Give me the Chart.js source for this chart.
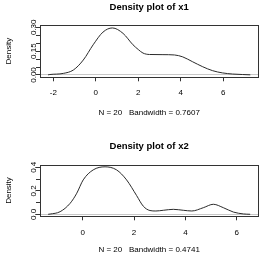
<!DOCTYPE html>
<html>
<head>
<meta charset="utf-8">
<script src="https://cdn.jsdelivr.net/npm/chart.js@4.4.1/dist/chart.umd.min.js"></script>
<style>
  html, body { margin: 0; padding: 0; background: #fff; }
  #wrap { position: relative; width: 260px; height: 259px; overflow: hidden; }
  .panel { position: absolute; left: 0; }
  #p1 { top: 0; }
  #p2 { top: 130px; }
</style>
</head>
<body>
<div id="wrap">
  <div class="panel" id="p1"><canvas id="c1" width="260" height="130"></canvas></div>
  <div class="panel" id="p2"><canvas id="c2" width="260" height="129"></canvas></div>
</div>
<script>
// ── DATA ──────────────────────────────────────────────────────────────────────
// density of x1
const x1Grid = [-2.245, -2.16, -1.53, -1.06, -0.59, -0.125, 0.34, 0.78, 1.28, 1.75, 2.0, 2.22,
                2.53, 3.16, 3.70, 4.09, 4.56, 5.03, 5.50, 5.97, 6.44, 6.90, 7.27];
const x1Dens = [0.001, 0.003, 0.010, 0.031, 0.094, 0.190, 0.270, 0.296, 0.262, 0.190, 0.160, 0.138,
                0.129, 0.128, 0.126, 0.114, 0.083, 0.052, 0.027, 0.013, 0.006, 0.003, 0.001];
const x1Ticks   = [-2, 0, 2, 4, 6];
const y1Ticks   = [0, 0.05, 0.10, 0.15, 0.20, 0.25, 0.30];
const y1Labels  = ['0.00', '', '', '0.15', '', '', '0.30'];

// density of x2
const x2Grid = [-1.345, -1.27, -0.88, -0.49, -0.23, 0.02, 0.41, 0.87, 1.32, 1.71, 2.10, 2.36,
                2.62, 2.85, 3.14, 3.53, 3.92, 4.25, 4.70, 5.09, 5.48, 5.87, 6.26, 6.525];
const x2Dens = [0.001, 0.003, 0.023, 0.094, 0.180, 0.293, 0.378, 0.404, 0.378, 0.293, 0.160, 0.070,
                0.033, 0.029, 0.035, 0.043, 0.035, 0.029, 0.057, 0.086, 0.057, 0.020, 0.004, 0.001];
const x2Ticks   = [0, 2, 4, 6];
const y2Ticks   = [0, 0.1, 0.2, 0.3, 0.4];
const y2Labels  = ['0.0', '', '0.2', '', '0.4'];

const FONT = "'Liberation Sans', Arial, sans-serif";

// ── PLOT BOX (R style frame round the plot region) ────────────────────────────
const plotBox = {
    id: 'plotBox',
    afterDatasetsDraw(chart) {
        const { ctx, chartArea: a } = chart;
        const l = Math.round(a.left), r = Math.round(a.right);
        const t = Math.round(a.top),  b = Math.round(a.bottom);
        ctx.save();
        ctx.strokeStyle = '#333';
        ctx.lineWidth = 1;
        ctx.strokeRect(l + 0.5, t + 0.5, r - l, b - t);
        ctx.restore();
    }
};

function densityChart(id, c) {
    return new Chart(document.getElementById(id), {
        type: 'line',
        data: {
            datasets: [{
                data: c.xs.map((x, i) => ({ x: x, y: c.ys[i] })),
                borderColor: '#2b2b2b', borderWidth: 1,
                pointRadius: 0, fill: false,
                cubicInterpolationMode: 'monotone'
            }]
        },
        options: {
            responsive: false, animation: false, events: [],
            layout: { padding: { top: 0, left: 0, right: 1.7, bottom: 0 } },
            plugins: {
                legend: { display: false },
                tooltip: { enabled: false },
                title: {
                    display: true, text: c.title, fullSize: false, color: '#000',
                    font: { family: FONT, size: 9.5, weight: 'bold' },
                    padding: { top: c.titleTop, bottom: c.titleBottom }
                }
            },
            scales: {
                x: {
                    type: 'linear', min: c.xMin, max: c.xMax,
                    afterBuildTicks: s => { s.ticks = c.xTicks.map(v => ({ value: v })); },
                    afterFit: s => { s.height = c.xHeight; },
                    ticks: {
                        autoSkip: false, maxRotation: 0, color: '#000',
                        font: { family: FONT, size: 8 }, padding: c.xPad,
                        callback: v => String(v)
                    },
                    grid: { drawOnChartArea: false, tickLength: 4, tickColor: '#333' },
                    border: { display: false },
                    title: {
                        display: true, text: c.sub, color: '#000',
                        font: { family: FONT, size: 8 },
                        padding: { top: 0, bottom: c.subPad }
                    }
                },
                y: {
                    type: 'linear', min: c.yMin, max: c.yMax,
                    afterBuildTicks: s => { s.ticks = c.yTicks.map(v => ({ value: v })); },
                    afterFit: s => { s.width = 40; },
                    ticks: {
                        autoSkip: false, minRotation: 90, maxRotation: 90,
                        crossAlign: 'center', padding: c.yPad, color: '#000',
                        font: { family: FONT, size: 8 },
                        callback: (v, i) => c.yLabels[i]
                    },
                    grid: {
                        tickLength: 4, tickColor: '#333',
                        color: ctx => (ctx.tick && ctx.tick.value === 0) ? '#c8c8c8' : 'rgba(0,0,0,0)'
                    },
                    border: { display: false },
                    title: {
                        display: true, text: 'Density', color: '#000',
                        font: { family: FONT, size: 8 },
                        padding: { top: 3.5, bottom: 0 }
                    }
                }
            }
        },
        plugins: [plotBox]
    });
}

densityChart('c1', {
    xs: x1Grid, ys: x1Dens, xTicks: x1Ticks, yTicks: y1Ticks, yLabels: y1Labels,
    title: 'Density plot of x1', sub: 'N = 20   Bandwidth = 0.7607',
    xMin: -2.626, xMax: 7.647, yMin: -0.0145, yMax: 0.3145,
    titleTop: 1.3, titleBottom: 12.3, xHeight: 52.7, xPad: 6.6, subPad: 12.5, yPad: -5.8
});

densityChart('c2', {
    xs: x2Grid, ys: x2Dens, xTicks: x2Ticks, yTicks: y2Ticks, yLabels: y2Labels,
    title: 'Density plot of x2', sub: 'N = 20   Bandwidth = 0.4741',
    xMin: -1.663, xMax: 6.841, yMin: -0.0161, yMax: 0.422,
    titleTop: 11.0, titleBottom: 12.3, xHeight: 42.7, xPad: 7.2, subPad: 4.2, yPad: -3.6
});
</script>
</body>
</html>
